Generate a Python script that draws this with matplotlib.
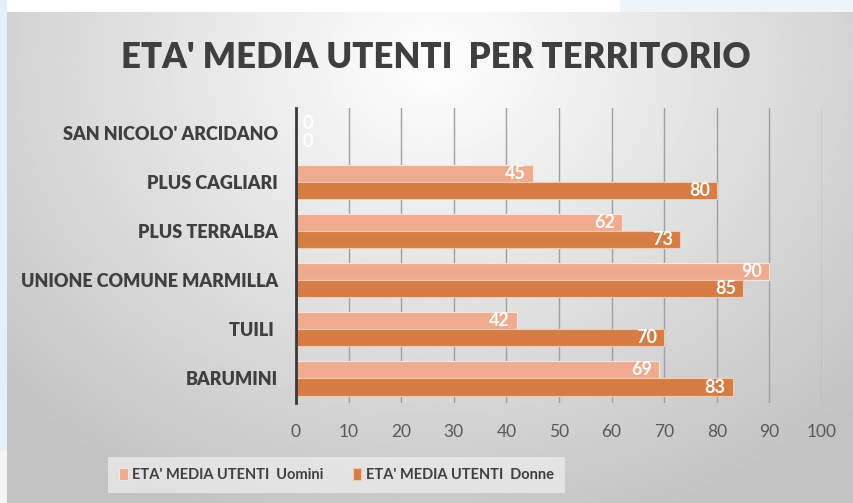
import numpy as np
import matplotlib
matplotlib.use("Agg")
import matplotlib.pyplot as plt
from matplotlib.patches import Rectangle

plt.rcParams['font.family'] = ['Lato', 'DejaVu Sans']

# data, bottom to top as drawn
categories = ["BARUMINI", "TUILI ", "UNIONE COMUNE MARMILLA",
              "PLUS TERRALBA", "PLUS CAGLIARI", "SAN NICOLO' ARCIDANO"]
uomini = [69, 42, 90, 62, 45, 0]
donne = [83, 70, 85, 73, 80, 0]
series_names = ["ETA' MEDIA UTENTI  Uomini", "ETA' MEDIA UTENTI  Donne"]
xticks = [0, 10, 20, 30, 40, 50, 60, 70, 80, 90, 100]

c_light = "#f0ab8e"
c_dark = "#d67d45"
text_dark = "#3f3f3f"

fig = plt.figure(figsize=(8.54, 5.03), dpi=100)
fig.patch.set_facecolor("white")

# background panel with a soft radial gradient
bg = fig.add_axes([0, 0, 1, 1], zorder=0)
bg.set_xlim(0, 854)
bg.set_ylim(503, 0)
bg.axis("off")
xx, yy = np.meshgrid(np.linspace(0, 854, 400), np.linspace(0, 503, 240))
d = np.sqrt(((xx - 430) / 650) ** 2 + ((yy - 50) / 560) ** 2)
shade = np.clip(1.0 - 0.26 * d, 0.76, 1.0)
bg.imshow(shade, cmap="gray", vmin=0, vmax=1, extent=[7, 854, 503, 12],
          aspect="auto", interpolation="bilinear")
bg.add_patch(Rectangle((0, 0), 7, 450, color="#e6f0fa", lw=0))
bg.add_patch(Rectangle((0, 450), 7, 53, color="#f4f4f4", lw=0))
bg.add_patch(Rectangle((620, 0), 234, 12, color="#eef4fb", lw=0))

ax = fig.add_axes([0.3466, 0.1988, 0.6159, 0.5865], zorder=1)
ax.patch.set_alpha(0)

y = np.arange(len(categories))
h = 0.35
b1 = ax.barh(y + h / 2, uomini, height=h, color=c_light, edgecolor="#fbe3d8",
             linewidth=0.8, zorder=3, label=series_names[0])
b2 = ax.barh(y - h / 2, donne, height=h, color=c_dark, edgecolor="#f4c9ad",
             linewidth=0.8, zorder=3, label=series_names[1])

for bars, vals in ((b1, uomini), (b2, donne)):
    for rect, v in zip(bars, vals):
        yc = rect.get_y() + rect.get_height() / 2
        if v == 0:
            ax.text(1.2, yc, str(v), ha="left", va="center", color="white",
                    fontsize=13, fontweight="bold", zorder=4)
        else:
            ax.text(v - 1.3, yc, str(v), ha="right", va="center", color="white",
                    fontsize=13, fontweight="bold", zorder=4)

ax.set_xlim(0, 100)
ax.set_ylim(-0.5, len(categories) - 0.5)
ax.set_xticks(xticks)
ax.set_xticklabels([str(t) for t in xticks], fontsize=12.5, color="#595959")
ax.set_yticks(y)
ax.set_yticklabels(categories, fontsize=13, fontweight="heavy", color=text_dark)
ax.tick_params(axis="x", length=0, pad=15)
ax.tick_params(axis="y", length=0, pad=13)
ax.grid(axis="x", color="#a0a0a0", linewidth=1, zorder=0)
for s in ("top", "right", "bottom"):
    ax.spines[s].set_visible(False)
ax.spines["left"].set_color("#3a3a3a")
ax.spines["left"].set_linewidth(2)
ax.spines["left"].set_zorder(5)

fig.text(0.51, 0.885, "ETA' MEDIA UTENTI  PER TERRITORIO", ha="center",
         va="center", fontsize=25, fontweight="heavy", color=text_dark)

leg = fig.legend(handles=[b1, b2], loc="center", bbox_to_anchor=(0.394, 0.056),
                 ncol=2, frameon=True, fontsize=10.5, handlelength=0.6,
                 handleheight=0.9, handletextpad=0.3, columnspacing=2.0,
                 borderpad=0.75, borderaxespad=0, fancybox=False)
leg.get_frame().set_facecolor("#ececec")
leg.get_frame().set_edgecolor("none")
leg.get_frame().set_alpha(0.75)
for t in leg.get_texts():
    t.set_fontweight("bold")
    t.set_color(text_dark)

fig.savefig("out.png", dpi=100)
